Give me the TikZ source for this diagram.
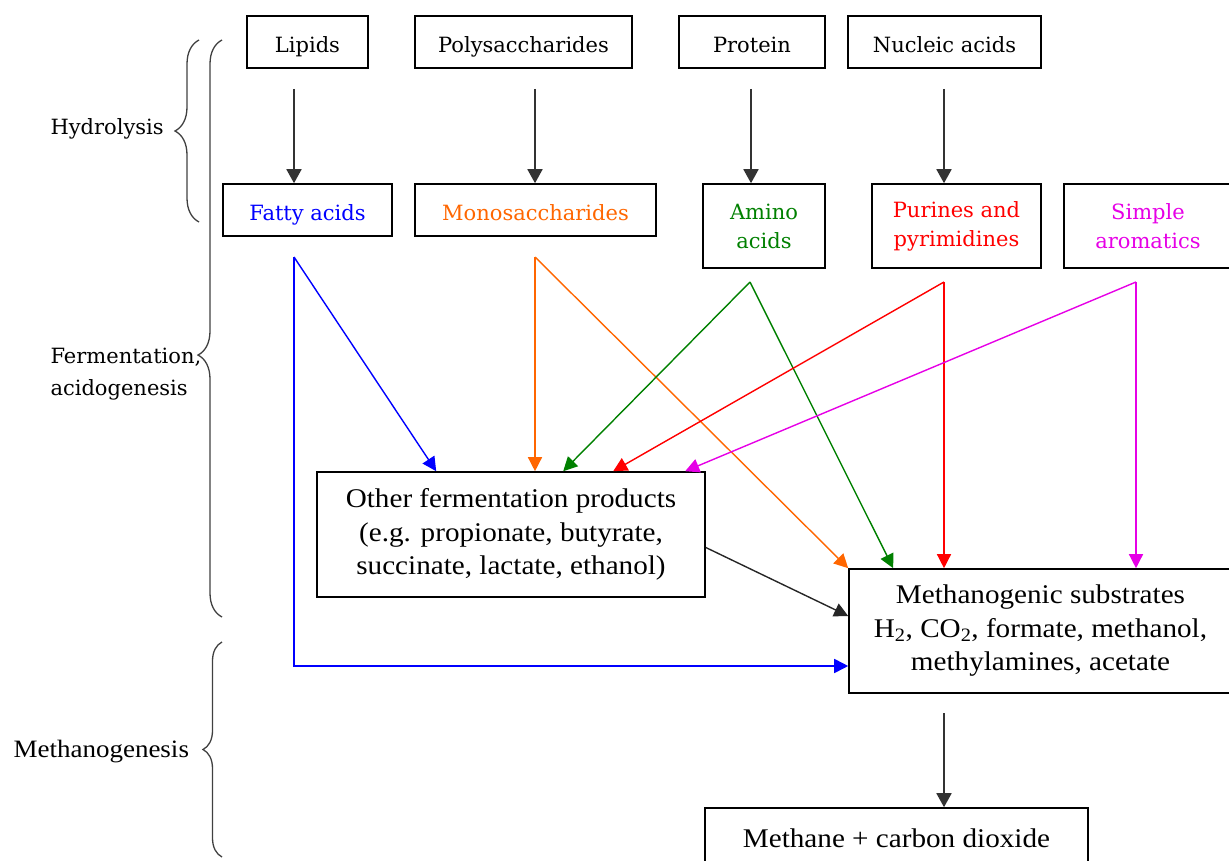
\documentclass[tikz,border=0pt]{standalone}
\usepackage{fontspec}
\setmainfont{Liberation Serif}
\newfontfamily\labelfont{DejaVu Serif}
\newfontfamily\boxfont[FakeStretch=1.08]{Liberation Serif}
\usetikzlibrary{arrows.meta,decorations.pathreplacing}
\definecolor{fattyblue}{RGB}{0,0,255}
\definecolor{monoorange}{RGB}{255,102,0}
\definecolor{aminogreen}{RGB}{0,128,0}
\definecolor{purinered}{RGB}{255,0,0}
\definecolor{aromaticpink}{RGB}{230,0,230}
\tikzset{
	smallbox/.style={draw, line width=1.6pt, inner sep=0pt, align=center, font=\labelfont\fontsize{21}{29}\selectfont},
	oneline/.style={smallbox, text height=21pt, text depth=0pt, minimum height=52pt},
	twoline/.style={smallbox, minimum height=84pt},
	bigbox/.style={draw, line width=1.6pt, inner sep=0pt, align=center, font=\boxfont\fontsize{27}{33.5}\selectfont},
	feed/.style={line width=1.8pt, draw=black!80, -{Triangle[length=14pt,width=15pt]}},
	route/.style={line width=1.4pt, -{Triangle[length=14pt,width=14pt]}},
	stagebrace/.style={decorate, line width=1.3pt, draw=black!75}
}

\begin{document}
\begin{tikzpicture}[x=1pt,y=-1pt]
	\useasboundingbox (0,0) rectangle (1229,861);
	% polymers
	\node[oneline, minimum width=121pt] (lipids) at (307.5,42) {Lipids};
	\node[oneline, minimum width=217pt] (polysacch) at (523.5,42) {Polysaccharides};
	\node[oneline, minimum width=146pt] (protein) at (752,42) {Protein};
	\node[oneline, minimum width=193pt] (nucleic) at (944.5,42) {Nucleic acids};
	% monomers
	\node[oneline, text=fattyblue, minimum width=169pt] (fatty) at (307.5,210) {Fatty acids};
	\node[oneline, text=monoorange, minimum width=241pt] (mono) at (535.5,210) {Monosaccharides};
	\node[twoline, text=aminogreen, minimum width=122pt] (amino) at (764,226) {Amino\\acids};
	\node[twoline, text=purinered, minimum width=169pt] (purines) at (956.5,226) {Purines and\\pyrimidines};
	\node[twoline, text=aromaticpink, minimum width=168pt] (aromatics) at (1148,226) {Simple\\aromatics};
	% products
	\node[bigbox, minimum width=388pt, minimum height=125pt] (other) at (511,534.5) {Other fermentation products\\(e.g. propionate, butyrate,\\succinate, lactate, ethanol)};
	\node[bigbox, minimum width=383pt, minimum height=124pt] (meth) at (1040.5,631) {Methanogenic substrates\\H\textsubscript{2}, CO\textsubscript{2}, formate, methanol,\\methylamines, acetate};
	\node[bigbox, minimum width=383pt, minimum height=60pt] (methane) at (896.5,838) {Methane + carbon dioxide};
	% stages
	\node[anchor=west, font=\labelfont\fontsize{21}{29}\selectfont] (hydro) at (47,129) {Hydrolysis};
	\node[anchor=west, align=left, font=\labelfont\fontsize{21}{32}\selectfont] (ferment) at (47,374) {Fermentation,\\acidogenesis};
	\node[anchor=west, font=\boxfont\fontsize{25}{28}\selectfont] (methano) at (10,752) {Methanogenesis};
	\draw[stagebrace, decoration={brace, amplitude=24pt}] (199,222) -- (199,40);
	\draw[stagebrace, decoration={brace, amplitude=24pt, aspect=0.454}] (222,617) -- (222,40);
	\draw[stagebrace, decoration={brace, amplitude=19pt}] (222,857) -- (222,642);
	% arrow starts
	\coordinate (lipids-out) at (294,89);
	\coordinate (polysacch-out) at (535,89);
	\coordinate (protein-out) at (751,89);
	\coordinate (nucleic-out) at (944,89);
	\coordinate (fatty-out) at (294,257);
	\coordinate (mono-out) at (535,257);
	\coordinate (amino-out) at (750,282);
	\coordinate (purines-out) at (944,282);
	\coordinate (aromatics-out) at (1136,282);
	\coordinate (meth-out) at (944,713);
	% hydrolysis
	\draw[feed] (lipids-out) -- (lipids-out |- fatty.north);
	\draw[feed] (polysacch-out) -- (polysacch-out |- mono.north);
	\draw[feed] (protein-out) -- (protein-out |- amino.north);
	\draw[feed] (nucleic-out) -- (nucleic-out |- purines.north);
	% fermentation
	\draw[route, fattyblue] (fatty-out) -- ([xshift=120pt]other.north west);
	\draw[route, fattyblue, line width=1.8pt] (fatty-out) |- ([yshift=-35pt]meth.west);
	\draw[route, monoorange] (mono-out) -- (mono-out |- other.north);
	\draw[route, monoorange] (mono-out) -- (meth.north west);
	\draw[route, aminogreen] (amino-out) -- ([xshift=247pt]other.north west);
	\draw[route, aminogreen] (amino-out) -- ([xshift=45pt]meth.north west);
	\draw[route, purinered] (purines-out) -- ([xshift=297pt]other.north west);
	\draw[route, purinered] (purines-out) -- (purines-out |- meth.north);
	\draw[route, aromaticpink] (aromatics-out) -- ([xshift=369pt]other.north west);
	\draw[route, aromaticpink] (aromatics-out) -- (aromatics-out |- meth.north);
	\draw[route, black!85] ([yshift=-13pt]other.east) -- ([yshift=15pt]meth.west);
	% methanogenesis
	\draw[feed] (meth-out) -- (meth-out |- methane.north);
\end{tikzpicture}
\end{document}
